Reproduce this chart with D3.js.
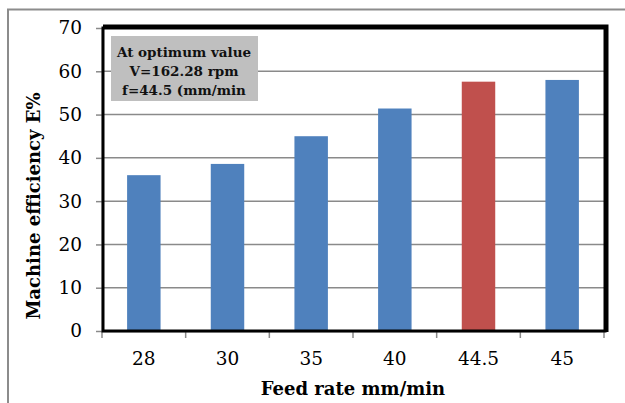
<!DOCTYPE html>
<html>
<head>
<meta charset="utf-8">
<script src="https://cdn.jsdelivr.net/npm/d3@7"></script>
<style>
  body { margin: 0; background: #fff; }
  svg { display: block; }
  text { font-family: "DejaVu Serif", serif; }
</style>
</head>
<body>
<div id="chart"></div>
<script>
// data
const feedRates = ["28", "30", "35", "40", "44.5", "45"]
const efficiency = [36.0, 38.6, 45.0, 51.4, 57.6, 58.0]
const optimumRate = "44.5"
const yTicks = [0, 10, 20, 30, 40, 50, 60, 70]
const noteLines = ["At optimum value", "V=162.28 rpm", "f=44.5 (mm/min"]

const W = 625, H = 403
const margin = {top: 28, right: 21, bottom: 72, left: 102}
const width = W - margin.left - margin.right
const height = H - margin.top - margin.bottom

const svg = d3.select("#chart")
    .append("svg")
    .attr("width", W)
    .attr("height", H)

// outer chart frame (cut off at the right / bottom)
svg.append("rect")
    .attr("x", 8).attr("y", 9.5)
    .attr("width", 700).attr("height", 500)
    .attr("fill", "none")
    .attr("stroke", "#8c8c8c")
    .attr("stroke-width", 2)

const g = svg.append("g")
    .attr("transform", `translate(${margin.left},${margin.top})`)

const x = d3.scaleBand()
    .domain(feedRates)
    .range([0, width])
    .paddingInner(0.6)
    .paddingOuter(0.3)

const y = d3.scaleLinear()
    .domain([0, 70])
    .range([height, 0])

// gridlines
g.append("g")
    .selectAll("line")
    .data(yTicks.filter(d => d > 0 && d < 70))
    .join("line")
    .attr("x1", 0).attr("x2", width)
    .attr("y1", d => y(d)).attr("y2", d => y(d))
    .attr("stroke", "#8a8a8a")
    .attr("stroke-width", 1.5)

// bars
g.append("g")
    .selectAll("rect")
    .data(feedRates.map((k, i) => ({key: k, value: efficiency[i]})))
    .join("rect")
    .attr("x", d => x(d.key))
    .attr("y", d => y(d.value))
    .attr("width", x.bandwidth())
    .attr("height", d => height - y(d.value))
    .attr("fill", d => d.key === optimumRate ? "#c0504d" : "#4f81bd")

// y axis
const yAxis = g.append("g")
    .call(d3.axisLeft(y).tickValues(yTicks).tickSize(6).tickPadding(14).tickSizeOuter(0))
yAxis.select(".domain").attr("stroke", "#8a8a8a").attr("stroke-width", 1.5)
yAxis.selectAll(".tick line").attr("stroke", "#8a8a8a").attr("stroke-width", 1.5)
yAxis.selectAll(".tick text")
    .attr("font-family", "DejaVu Serif")
    .attr("font-size", 18.5)
    .attr("fill", "#000")

// x axis: labels centred on bars, tick marks between categories
const xAxis = g.append("g")
    .attr("transform", `translate(0,${height})`)
    .call(d3.axisBottom(x).tickSize(0).tickPadding(21).tickSizeOuter(0))
xAxis.select(".domain").attr("stroke", "#8a8a8a").attr("stroke-width", 1.5)
xAxis.selectAll(".tick text")
    .attr("font-family", "DejaVu Serif")
    .attr("font-size", 18.5)
    .attr("fill", "#000")

const bounds = feedRates.map(k => x(k) - x.step() * 0.3).concat([width])
xAxis.selectAll(".sep")
    .data(bounds)
    .join("line")
    .attr("class", "sep")
    .attr("x1", d => d).attr("x2", d => d)
    .attr("y1", 0).attr("y2", 7)
    .attr("stroke", "#8a8a8a")
    .attr("stroke-width", 1.5)

// thick black plot border (heavier on top and right)
g.append("rect")
    .attr("x", 1).attr("y", 0)
    .attr("width", width).attr("height", height)
    .attr("fill", "none")
    .attr("stroke", "#000")
    .attr("stroke-width", 3)
g.append("path")
    .attr("d", `M1,-2 H${width + 3} V${height + 1}`)
    .attr("fill", "none")
    .attr("stroke", "#000")
    .attr("stroke-width", 3)

// annotation box
const note = g.append("g")
note.append("rect")
    .attr("x", 9).attr("y", 8)
    .attr("width", 147).attr("height", 65)
    .attr("fill", "#bfbfbf")
note.selectAll("text")
    .data(noteLines)
    .join("text")
    .attr("x", 82)
    .attr("y", (d, i) => 28.5 + i * 19)
    .attr("text-anchor", "middle")
    .attr("font-weight", "bold")
    .attr("font-size", 13.5)
    .attr("fill", "#111")
    .text(d => d)

// axis titles
svg.append("text")
    .attr("x", margin.left + width / 2)
    .attr("y", 395)
    .attr("text-anchor", "middle")
    .attr("font-weight", "bold")
    .attr("font-size", 18)
    .text("Feed rate mm/min")

svg.append("text")
    .attr("transform", "translate(40,206) rotate(-90)")
    .attr("text-anchor", "middle")
    .attr("font-weight", "bold")
    .attr("font-size", 18)
    .text("Machine efficiency E%")
</script>
</body>
</html>
